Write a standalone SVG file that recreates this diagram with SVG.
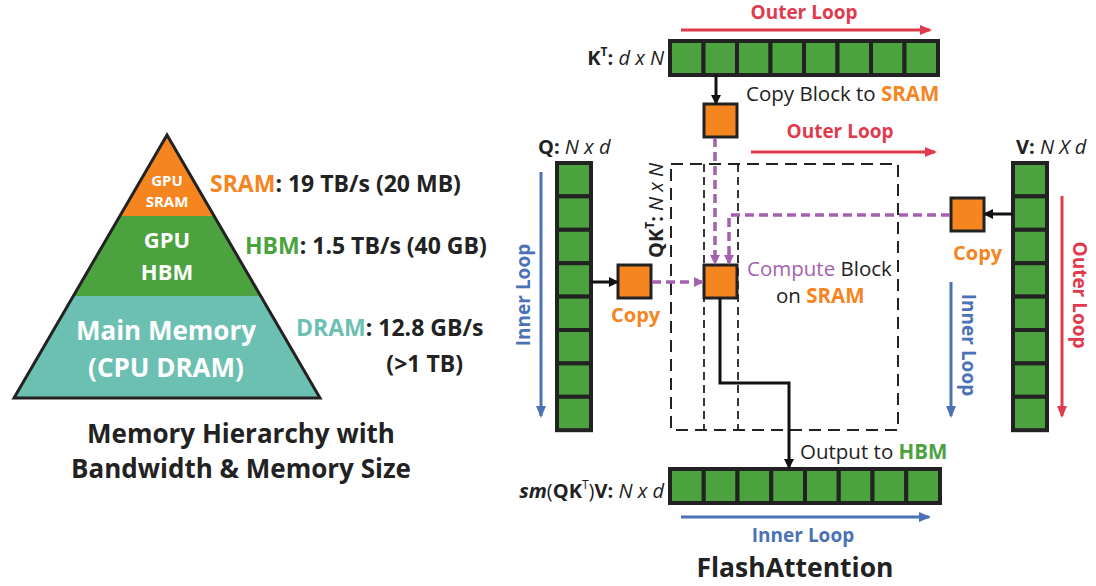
<svg xmlns="http://www.w3.org/2000/svg" width="1096" height="586" viewBox="0 0 1096 586">
<style>
text{font-family:"Open Sans","Liberation Sans",sans-serif;}
.b{font-weight:bold}
.cell{fill:#4ca23f;stroke:#222;stroke-width:4}
.blk{fill:#f5851f;stroke:#222;stroke-width:3}
.or{fill:#f5851f}.gr{fill:#4ca23f}.te{fill:#6cc0b2}.rd{fill:#e23a4d}.bl{fill:#4a72b5}.pu{fill:#a560b0}
.k{fill:#222}
.pd{stroke:#a560b0;stroke-width:3.5;stroke-dasharray:9,5}
</style>
<defs>
<marker id="ab" markerWidth="10" markerHeight="10" refX="8" refY="5" orient="auto" markerUnits="userSpaceOnUse"><path d="M0,0L10,5L0,10z" fill="#111"/></marker>
<marker id="ar" markerWidth="12" markerHeight="10" refX="10" refY="5" orient="auto" markerUnits="userSpaceOnUse"><path d="M0,0L12,5L0,10z" fill="#e23a4d"/></marker>
<marker id="abl" markerWidth="12" markerHeight="10" refX="10" refY="5" orient="auto" markerUnits="userSpaceOnUse"><path d="M0,0L12,5L0,10z" fill="#4a72b5"/></marker>
<marker id="ap" markerWidth="10" markerHeight="10" refX="8" refY="5" orient="auto" markerUnits="userSpaceOnUse"><path d="M0,0L10,5L0,10z" fill="#a560b0"/></marker>
<clipPath id="tri"><polygon points="167,135 14,398 320,398"/></clipPath>
</defs>
<g id="pyramid">
<g clip-path="url(#tri)">
<rect x="0" y="120" width="400" height="96" fill="#f5851f"/>
<rect x="0" y="216" width="400" height="80" fill="#4ca23f"/>
<rect x="0" y="296" width="400" height="110" fill="#6cc0b2"/>
</g>
<polygon points="167,135 14,398 320,398" fill="none" stroke="#222" stroke-width="3"/>
<text x="167" y="186" font-size="15" fill="#fff" text-anchor="middle" class="b">GPU</text>
<text x="167" y="207" font-size="15" fill="#fff" text-anchor="middle" class="b">SRAM</text>
<text x="167" y="248" font-size="22" fill="#fff" text-anchor="middle" class="b">GPU</text>
<text x="167" y="280" font-size="22" fill="#fff" text-anchor="middle" class="b">HBM</text>
<text x="166" y="340" font-size="26" fill="#fff" text-anchor="middle" class="b">Main Memory</text>
<text x="166" y="377" font-size="26" fill="#fff" text-anchor="middle" class="b">(CPU DRAM)</text>
<text x="210" y="192" font-size="23" class="b"><tspan class="or">SRAM</tspan><tspan class="k">: 19 TB/s (20 MB)</tspan></text>
<text x="245" y="254" font-size="23" class="b"><tspan class="gr">HBM</tspan><tspan class="k">: 1.5 TB/s (40 GB)</tspan></text>
<text x="296" y="336" font-size="23" class="b"><tspan class="te">DRAM</tspan><tspan class="k">: 12.8 GB/s</tspan></text>
<text x="463" y="372" font-size="23" class="b k" text-anchor="end">(&gt;1 TB)</text>
<text x="241" y="443" font-size="26" class="b k" text-anchor="middle">Memory Hierarchy with</text>
<text x="241" y="478" font-size="26" class="b k" text-anchor="middle">Bandwidth &amp; Memory Size</text>
</g>
<g id="kt">
<text x="664" y="65" font-size="20" class="k" text-anchor="end"><tspan class="b">K</tspan><tspan class="b" font-size="12" dy="-9">T</tspan><tspan class="b" dy="9">:</tspan><tspan font-style="italic"> d x N</tspan></text>
<rect class="cell" x="670" y="41" width="33.5" height="34"/><rect class="cell" x="703.5" y="41" width="33.5" height="34"/><rect class="cell" x="737" y="41" width="33.5" height="34"/><rect class="cell" x="770.5" y="41" width="33.5" height="34"/><rect class="cell" x="804" y="41" width="33.5" height="34"/><rect class="cell" x="837.5" y="41" width="33.5" height="34"/><rect class="cell" x="871" y="41" width="33.5" height="34"/><rect class="cell" x="904.5" y="41" width="33.5" height="34"/>
</g>
<g id="q">
<text x="538" y="154" font-size="20" class="k"><tspan class="b">Q:</tspan><tspan font-style="italic"> N x d</tspan></text>
<rect class="cell" x="557" y="163" width="34" height="33.4"/><rect class="cell" x="557" y="196.4" width="34" height="33.4"/><rect class="cell" x="557" y="229.8" width="34" height="33.4"/><rect class="cell" x="557" y="263.2" width="34" height="33.4"/><rect class="cell" x="557" y="296.6" width="34" height="33.4"/><rect class="cell" x="557" y="330" width="34" height="33.4"/><rect class="cell" x="557" y="363.4" width="34" height="33.4"/><rect class="cell" x="557" y="396.8" width="34" height="33.4"/>
</g>
<g id="v">
<text x="1016" y="154" font-size="20" class="k"><tspan class="b">V:</tspan><tspan font-style="italic"> N X d</tspan></text>
<rect class="cell" x="1013" y="163" width="34" height="33.4"/><rect class="cell" x="1013" y="196.4" width="34" height="33.4"/><rect class="cell" x="1013" y="229.8" width="34" height="33.4"/><rect class="cell" x="1013" y="263.2" width="34" height="33.4"/><rect class="cell" x="1013" y="296.6" width="34" height="33.4"/><rect class="cell" x="1013" y="330" width="34" height="33.4"/><rect class="cell" x="1013" y="363.4" width="34" height="33.4"/><rect class="cell" x="1013" y="396.8" width="34" height="33.4"/>
</g>
<g id="out">
<text x="664" y="498" font-size="20" class="k" text-anchor="end"><tspan class="b" font-style="italic">sm</tspan><tspan>(</tspan><tspan class="b">QK</tspan><tspan font-size="12" dy="-9">T</tspan><tspan dy="9">)</tspan><tspan class="b">V:</tspan><tspan font-style="italic"> N x d</tspan></text>
<rect class="cell" x="670" y="469" width="33.75" height="34"/><rect class="cell" x="703.75" y="469" width="33.75" height="34"/><rect class="cell" x="737.5" y="469" width="33.75" height="34"/><rect class="cell" x="771.25" y="469" width="33.75" height="34"/><rect class="cell" x="805" y="469" width="33.75" height="34"/><rect class="cell" x="838.75" y="469" width="33.75" height="34"/><rect class="cell" x="872.5" y="469" width="33.75" height="34"/><rect class="cell" x="906.25" y="469" width="33.75" height="34"/>
</g>
<g id="qkt">
<rect x="671" y="164" width="227" height="266" fill="none" stroke="#222" stroke-width="2" stroke-dasharray="12,7"/>
<line x1="704" y1="164" x2="704" y2="430" stroke="#222" stroke-width="1.8" stroke-dasharray="8,5"/>
<line x1="738" y1="164" x2="738" y2="430" stroke="#222" stroke-width="1.8" stroke-dasharray="8,5"/>
<text transform="translate(663,258) rotate(-90)" font-size="20" class="k"><tspan class="b">QK</tspan><tspan class="b" font-size="12" dy="-9">T</tspan><tspan class="b" dy="9">:</tspan><tspan font-style="italic"> N x N</tspan></text>
</g>
<g id="kblock"><rect class="blk" x="704" y="104" width="33" height="33"/>
<text x="746" y="101" font-size="20.5" class="k">Copy Block to <tspan class="or b">SRAM</tspan></text></g>
<g id="qcopy"><rect class="blk" x="618" y="265" width="33" height="33"/>
<text x="611" y="322" font-size="20" class="or b">Copy</text></g>
<g id="vcopy"><rect class="blk" x="951" y="198" width="33" height="33"/>
<text x="953" y="260" font-size="20" class="or b">Copy</text></g>
<g id="compute"><rect class="blk" x="704" y="265" width="33" height="33"/>
<text x="747" y="276" font-size="20.5" class="k"><tspan class="pu">Compute</tspan> Block</text>
<text x="776" y="303" font-size="20.5" class="k">on <tspan class="or b">SRAM</tspan></text></g>
<g id="connectors" fill="none">
<line x1="716" y1="75" x2="716" y2="103" stroke="#111" stroke-width="3" marker-end="url(#ab)"/>
<line x1="591" y1="282" x2="617" y2="282" stroke="#111" stroke-width="3" marker-end="url(#ab)"/>
<line x1="1013" y1="214" x2="985" y2="214" stroke="#111" stroke-width="3" marker-end="url(#ab)"/>
<polyline points="720,298 720,383 789,383 789,467" stroke="#111" stroke-width="3" marker-end="url(#ab)"/>
<line x1="715" y1="138" x2="715" y2="263" class="pd" marker-end="url(#ap)"/>
<polyline points="950,215 729,215 729,263" class="pd" marker-end="url(#ap)"/>
<line x1="652" y1="282" x2="702" y2="282" class="pd" marker-end="url(#ap)"/>
<line x1="681" y1="30" x2="930" y2="30" stroke="#e23a4d" stroke-width="3" marker-end="url(#ar)"/>
<line x1="751" y1="152" x2="935" y2="152" stroke="#e23a4d" stroke-width="3" marker-end="url(#ar)"/>
<line x1="1062" y1="196" x2="1062" y2="416" stroke="#e23a4d" stroke-width="3" marker-end="url(#ar)"/>
<line x1="541" y1="172" x2="541" y2="416" stroke="#4a72b5" stroke-width="3" marker-end="url(#abl)"/>
<line x1="951" y1="282" x2="951" y2="416" stroke="#4a72b5" stroke-width="3" marker-end="url(#abl)"/>
<line x1="681" y1="517" x2="929" y2="517" stroke="#4a72b5" stroke-width="3" marker-end="url(#abl)"/>
</g>
<g id="labels">
<text x="804" y="19" font-size="19" class="rd b" text-anchor="middle">Outer Loop</text>
<text x="840" y="138" font-size="19" class="rd b" text-anchor="middle">Outer Loop</text>
<text transform="translate(1073,295) rotate(90)" font-size="19" class="rd b" text-anchor="middle">Outer Loop</text>
<text transform="translate(530,295) rotate(-90)" font-size="19" class="bl b" text-anchor="middle">Inner Loop</text>
<text transform="translate(962,345) rotate(90)" font-size="19" class="bl b" text-anchor="middle">Inner Loop</text>
<text x="803" y="542" font-size="19" class="bl b" text-anchor="middle">Inner Loop</text>
<text x="800" y="459" font-size="20.5" class="k">Output to <tspan class="gr b">HBM</tspan></text>
<text x="795" y="577" font-size="26.5" class="k b" text-anchor="middle">FlashAttention</text>
</g>
</svg>
